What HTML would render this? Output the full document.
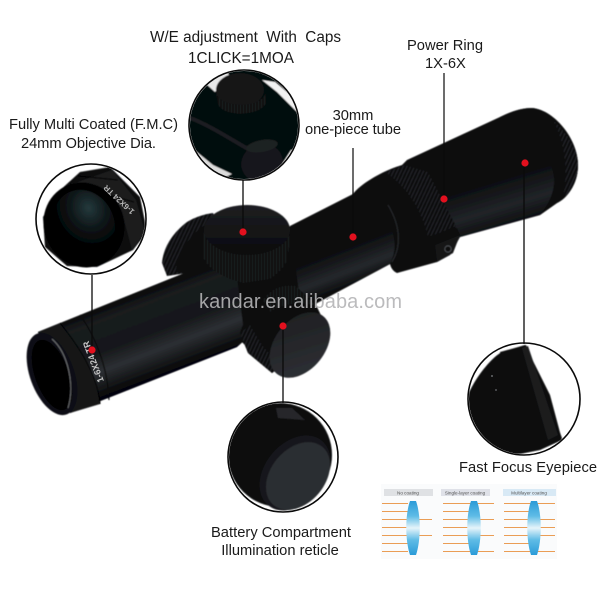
<!DOCTYPE html>
<html><head><meta charset="utf-8"><style>
html,body{margin:0;padding:0;background:#fff;width:600px;height:600px;overflow:hidden}
svg{display:block}
text{font-family:"Liberation Sans",Arial,sans-serif;fill:#1a1a1a}
</style></head><body>
<svg width="600" height="600" viewBox="0 0 600 600" xmlns="http://www.w3.org/2000/svg">
<defs>
<linearGradient id="tube" gradientUnits="userSpaceOnUse" x1="100" y1="307" x2="130" y2="386"><stop offset="0" stop-color="#08090a"/><stop offset=".15" stop-color="#1a1c1f"/><stop offset=".5" stop-color="#16181a"/><stop offset=".72" stop-color="#2c2f33"/><stop offset=".88" stop-color="#17191b"/><stop offset="1" stop-color="#060607"/></linearGradient>
<linearGradient id="tube2" gradientUnits="userSpaceOnUse" x1="330" y1="205" x2="360" y2="283"><stop offset="0" stop-color="#090a0b"/><stop offset=".55" stop-color="#0d0e10"/><stop offset=".82" stop-color="#25282c"/><stop offset="1" stop-color="#0a0b0c"/></linearGradient>
<linearGradient id="eye" gradientUnits="userSpaceOnUse" x1="480" y1="120" x2="512" y2="225"><stop offset="0" stop-color="#08090a"/><stop offset=".55" stop-color="#0b0c0e"/><stop offset=".82" stop-color="#212428"/><stop offset="1" stop-color="#0c0d0f"/></linearGradient>
<linearGradient id="cap" x1="0" y1="0" x2="0" y2="1"><stop offset="0" stop-color="#1e1f22"/><stop offset="1" stop-color="#0b0b0d"/></linearGradient>
<linearGradient id="disc" x1="0" y1="0" x2="1" y2="1"><stop offset="0" stop-color="#1c1d20"/><stop offset="1" stop-color="#303236"/></linearGradient>
<radialGradient id="glass" cx=".68" cy=".32" r=".55"><stop offset="0" stop-color="#24393c"/><stop offset=".6" stop-color="#0c1315"/><stop offset="1" stop-color="#030404"/></radialGradient>
<linearGradient id="lens" x1="0" y1="0" x2="0" y2="1"><stop offset="0" stop-color="#2a9bd8"/><stop offset=".28" stop-color="#5fbce6"/><stop offset=".5" stop-color="#e6f4fa"/><stop offset=".72" stop-color="#5fbce6"/><stop offset="1" stop-color="#2a9bd8"/></linearGradient>
<pattern id="knurl" width="3" height="3" patternUnits="userSpaceOnUse"><rect width="3" height="3" fill="#0b0c0e"/><rect width="1" height="3" fill="#1e2023"/></pattern>
<pattern id="knurl2" width="3.4" height="3.4" patternUnits="userSpaceOnUse" patternTransform="rotate(25)"><rect width="3.4" height="3.4" fill="#0a0b0d"/><rect width="1.2" height="3.4" fill="#222428"/></pattern>
<filter id="b1" x="-10%" y="-10%" width="120%" height="120%"><feGaussianBlur stdDeviation=".5"/></filter>
<clipPath id="c1"><circle cx="91" cy="219" r="54"/></clipPath>
<clipPath id="c2"><circle cx="244" cy="125" r="54"/></clipPath>
<clipPath id="c3"><circle cx="283" cy="457" r="54"/></clipPath>
<clipPath id="c4"><circle cx="524" cy="399" r="55"/></clipPath>
</defs>
<rect width="600" height="600" fill="#fff"/>

<!-- scope -->
<g filter="url(#b1)">
<path d="M162 263C163 250 170 235 187 222C195 217 205 214 213 213L235 262L187 273L167 276Z" fill="url(#knurl2)"/>
<path d="M176 272C176 255 190 232 213 220L235 262L187 273Z" fill="#0a0b0d"/>
<!-- base silhouette with rounded eyepiece and ring -->
<path d="M38 332L187 272L300 222L352 195C362 182 385 170 402 165L407 160L500 117C512 111 522 108 532 108C555 110 578 140 578 165C578 185 566 199 557 203L540 215L460 237L450 255L437 262L397 273C393 271 391 268 390 264L317 303L272 373L240 340L237 347L70 413Z" fill="#0a0b0d"/>
<path d="M38 332L187 272L235 262L245 340L237 347L70 413Z" fill="url(#tube)"/>
<path d="M38 332L60 323C80 350 96 375 100 404L70 413Z" fill="#121316"/>
<path d="M60 323C82 350 98 378 100 404" fill="none" stroke="#050506" stroke-width="1.2"/>
<path d="M80 315C98 340 108 372 109 400" fill="none" stroke="#070708" stroke-width="1.2"/>
<ellipse cx="52" cy="374" rx="22" ry="43" transform="rotate(-20 52 374)" fill="#101114"/>
<ellipse cx="52" cy="375" rx="17" ry="37" transform="rotate(-20 52 375)" fill="#020203"/>
<path d="M52 339C68 353 75 385 68 408" fill="none" stroke="#8a8c8e" stroke-width=".9" opacity=".8"/>
<path d="M290 226L355 193C380 200 405 235 390 264L317 303L300 300Z" fill="url(#tube2)"/>
<!-- top elevation knob -->
<path d="M204 230L203 257C208 268 217 273 230 279L243 283L270 279C282 271 288 262 288 255L291 230Z" fill="url(#knurl)"/>
<ellipse cx="247" cy="230" rx="43" ry="25" fill="url(#cap)"/>
<!-- bottom knob -->
<path d="M240 333C245 315 262 298 283 285L296 286L317 307L328 330L272 373L248 353Z" fill="#08090a"/>
<path d="M263 300C270 290 280 284 296 286L316 306C300 300 280 305 270 312Z" fill="url(#knurl)"/>
<path d="M240 333L248 353L272 373L281 367L262 345L250 325Z" fill="url(#knurl2)"/>
<ellipse cx="300" cy="345" rx="25" ry="37" transform="rotate(39 300 345)" fill="url(#disc)"/>
<!-- eyepiece -->
<path d="M420 175L500 118C560 150 565 185 540 215L460 237L445 205Z" fill="url(#eye)"/>
<path d="M500 117C512 111 522 108 532 108C555 110 578 140 578 165C578 185 566 199 557 203L540 215C565 185 560 150 500 117Z" fill="#08090a"/>
<path d="M553 120C568 134 578 150 578 165C578 182 570 193 563 198C568 172 566 145 553 120Z" fill="url(#knurl2)"/>
<!-- power ring -->
<path d="M385 172L405 165L428 172L456 226L428 238C425 220 412 190 385 172Z" fill="url(#knurl2)"/>
<path d="M392 262C402 245 400 225 388 205" fill="none" stroke="#26282b" stroke-width="1.2"/>
<path d="M427 237L457 230L460 235L453 253L437 262L435 245Z" fill="#121316"/>
<path d="M427 237L457 228L460 235L435 245Z" fill="#08090a"/>
<circle cx="448" cy="249" r="3.2" fill="#0c0d0f" stroke="#55585c" stroke-width=".8"/>
</g>
<text font-size="9" transform="translate(104 381) rotate(-111)" style="fill:#c8c8c8;font-weight:bold">1-6X24 TR</text>
<text font-size="20" x="199" y="308" style="fill:#b4b4b6" textLength="203" opacity=".9">kandar.en.alibaba.com</text>

<!-- objective circle -->
<g clip-path="url(#c1)"><g filter="url(#b1)">
<path d="M80 172L110 167L140 197L147 232L133 250L97 267L67 266L45 247L43 217L57 193Z" fill="#0b0c0e"/>
<path d="M72 184L112 170L136 200L145 232L132 250L122 212C116 197 95 181 72 184Z" fill="#1a1c1f"/>
<path d="M78 176L118 180M70 184L134 202" stroke="#000" stroke-width="1" fill="none"/>
<ellipse cx="84" cy="225" rx="40" ry="43" transform="rotate(-25 84 225)" fill="#050506"/>
<ellipse cx="84" cy="224" rx="30" ry="35" transform="rotate(-25 84 224)" fill="url(#glass)"/>
</g>
<text font-size="8" transform="translate(135 211) rotate(-137)" style="fill:#b5b5b5;font-weight:bold">1-6X24 TR</text>
</g>
<circle cx="91" cy="219" r="55" fill="none" stroke="#0a0a0a" stroke-width="1.6"/>
<line x1="92" y1="275" x2="92" y2="350" stroke="#0a0a0a" stroke-width="1.3"/>

<!-- top circle -->
<g clip-path="url(#c2)"><g filter="url(#b1)">
<rect x="188" y="68" width="112" height="114" fill="#060708"/>
<path d="M223 68L205 83L215 92L230 76Z" fill="#e8e8e8"/>
<path d="M262 80L275 82L300 103V115L277 92Z" fill="#f2f2f2"/>
<path d="M192 148L213 165L232 174L215 182L192 170Z" fill="#dcdcdc"/>
<path d="M277 172L291 150L298 150V180H277Z" fill="#e6e6e6"/>
<ellipse cx="240" cy="90" rx="24" ry="17" fill="#121316"/>
<path d="M216 92C218 108 262 110 266 92L266 103C260 117 222 117 218 104Z" fill="url(#knurl)"/>
<path d="M190 118C210 125 240 145 250 150" stroke="#2a2c30" stroke-width="4" fill="none" opacity=".6"/>
<ellipse cx="262" cy="163" rx="21" ry="19" transform="rotate(-20 262 163)" fill="#17191c"/>
<ellipse cx="262" cy="146" rx="16" ry="6" transform="rotate(-10 262 146)" fill="#1f2124"/>
</g></g>
<circle cx="244" cy="125" r="55" fill="none" stroke="#0a0a0a" stroke-width="1.6"/>
<line x1="243" y1="180" x2="243" y2="232" stroke="#0a0a0a" stroke-width="1.3"/>

<!-- bottom circle -->
<g clip-path="url(#c3)"><g filter="url(#b1)">
<circle cx="280" cy="455" r="52" fill="#070809"/>
<path d="M276 408L292 408L305 420L278 418Z" fill="#26282b"/>
<ellipse cx="295" cy="473" rx="30" ry="42" transform="rotate(40 295 473)" fill="#17181b"/>
<ellipse cx="298" cy="476" rx="27" ry="38" transform="rotate(40 298 476)" fill="#2c2e31"/>
</g></g>
<circle cx="283" cy="457" r="55" fill="none" stroke="#0a0a0a" stroke-width="1.6"/>
<line x1="283" y1="326" x2="283" y2="403" stroke="#0a0a0a" stroke-width="1.3"/>

<!-- right circle -->
<g clip-path="url(#c4)"><g filter="url(#b1)">
<path d="M466 400C475 375 495 355 502 352L525 345L550 395L562 440L540 450L510 456H466Z" fill="#070809"/>
<path d="M500 352L526 345L562 438L540 449L512 452C505 420 505 380 500 352Z" fill="#0e0f11"/>
<path d="M522 348L528 346L558 435L548 440Z" fill="#1a1b1e"/>
</g>
<circle cx="492" cy="376" r="1" fill="#66686b"/><circle cx="496" cy="390" r="1" fill="#55575a"/>
</g>
<circle cx="524" cy="399" r="56" fill="none" stroke="#0a0a0a" stroke-width="1.6"/>
<line x1="524" y1="163" x2="524" y2="344" stroke="#0a0a0a" stroke-width="1.3"/>

<!-- other leaders -->
<line x1="353" y1="148" x2="353" y2="237" stroke="#0a0a0a" stroke-width="1.2"/>
<line x1="444" y1="73" x2="444" y2="199" stroke="#0a0a0a" stroke-width="1.2"/>

<!-- red dots -->
<g fill="#e3101e">
<circle cx="92" cy="350" r="3.6"/><circle cx="243" cy="232" r="3.6"/><circle cx="283" cy="326" r="3.6"/>
<circle cx="353" cy="237" r="3.6"/><circle cx="444" cy="199" r="3.6"/><circle cx="525" cy="163" r="3.6"/>
</g>

<!-- labels -->
<g font-size="14.7">
<text x="150" y="42" font-size="15.3" textLength="191">W/E adjustment&#160;&#160;With&#160;&#160;Caps</text>
<text x="188" y="63" font-size="15.3" textLength="106">1CLICK=1MOA</text>
<text x="9" y="129" textLength="169">Fully Multi Coated (F.M.C)</text>
<text x="21" y="148" textLength="135">24mm Objective Dia.</text>
<text x="407" y="50" textLength="76">Power Ring</text>
<text x="425" y="68">1X-6X</text>
<text x="353" y="120" text-anchor="middle">30mm</text>
<text x="305" y="134" textLength="96">one-piece tube</text>
<text x="459" y="472" textLength="138">Fast Focus Eyepiece</text>
<text x="211" y="537" textLength="140">Battery Compartment</text>
<text x="280" y="555" text-anchor="middle">Illumination reticle</text>
</g>

<!-- coating panel -->
<rect x="381" y="484" width="176" height="75" fill="#fafbfc"/>
<g font-size="4.6" text-anchor="middle">
<rect x="384" y="489" width="49" height="7" fill="#dfe1e4"/><text x="408" y="494.5" style="fill:#555">No coating</text>
<rect x="441" y="489" width="49" height="7" fill="#dfe1e8"/><text x="465" y="494.5" style="fill:#555">Single-layer coating</text>
<rect x="503" y="489" width="53" height="7" fill="#d8e9f5"/><text x="529" y="494.5" style="fill:#555">Multilayer coating</text>
</g>
<g stroke="#ea9d55" stroke-width="1.1" fill="none">
<path d="M382 503.5H408M382 511.5H408M382 519.5H432M382 527.5H408M382 535.5H432M382 543.5H408M382 551.5H408"/>
<path d="M443 503.5H494M443 511.5H469M443 519.5H494M443 527.5H469M443 535.5H494M443 543.5H469M443 551.5H494"/>
<path d="M504 503.5H555M504 511.5H530M504 519.5H555M504 527.5H555M504 535.5H555M504 543.5H530M504 551.5H555"/>
</g>
<g fill="url(#lens)">
<path d="M410 501H416C421 515 421 540 416 555H410C405 540 405 515 410 501Z"/>
<path d="M471 501H477C482 515 482 540 477 555H471C466 540 466 515 471 501Z"/>
<path d="M531 501H537C542 515 542 540 537 555H531C526 540 526 515 531 501Z"/>
</g>
</svg>
</body></html>
